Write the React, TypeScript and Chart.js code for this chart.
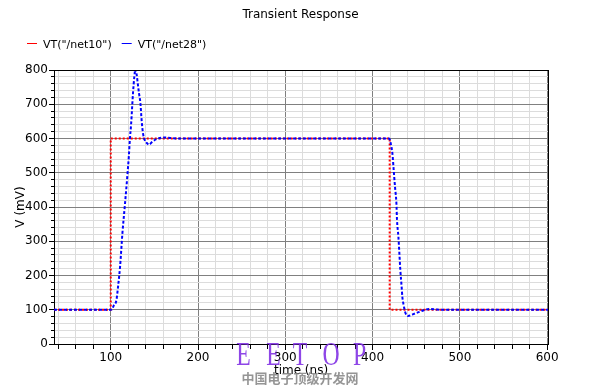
import React, { useEffect, useRef } from 'react';
import { Chart, registerables } from 'chart.js';

Chart.register(...registerables);

const chartTitle = 'Transient Response';
const xAxisTitle = 'time (ns)';
const yAxisTitle = 'V (mV)';
const seriesNames = ['VT("/net10")', 'VT("/net28")'];
const seriesColors = ['#ff0000', '#0000ff'];

// net10 : ideal step input (ns, mV)
const net10Time = [35, 100, 100, 419.6, 419.6, 601];
const net10Volt = [100, 100, 600, 600, 100, 100];

// net28 : ringing response (ns, mV)
const net28Time = [
  35, 100, 101.5, 103, 106.5, 108.5, 110.7, 113.4, 116.4, 119, 120.8, 122, 123.3, 125.5, 127, 128.3,
  129.8, 131, 132.4, 134, 135.5, 137, 139, 141.6, 143.9, 147.8, 152.3, 160.7, 170, 180,
  419, 420.7, 422.7, 424.2, 425.7, 427.3, 428, 429.6, 430.7, 431.8, 433.3, 434.1, 435.6, 437.5,
  440.5, 444, 447.4, 454, 460, 465.4, 472, 480, 601,
];
const net28Volt = [
  100, 100, 101, 110, 128, 170, 226, 324, 411, 490, 550, 600, 640, 732, 780, 803,
  785, 760, 732, 703, 650, 615, 595, 586, 582, 591, 598, 603, 601, 600,
  600, 587, 557, 508, 459, 411, 362, 313, 265, 216, 167, 138, 114, 92,
  82, 84, 88, 94, 100, 102, 101, 100, 100,
];

const xRange = [35, 601];
const yRange = [0, 800];
const xMajorTicks = [100, 200, 300, 400, 500, 600];
const yMajorTicks = [0, 100, 200, 300, 400, 500, 600, 700, 800];
const minorStep = 20;

const watermarkLetters = ['E', 'E', 'T', 'O', 'P'];
const watermarkLetterX = [243.5, 273.5, 300, 331, 359.5];
const watermarkCJK = '中国电子顶级开发网';

const FONT = '"DejaVu Sans", sans-serif';

function gridValues(min: number, max: number, step: number) {
  const out: number[] = [];
  for (let v = Math.ceil(min / step) * step; v <= max + 1e-9; v += step) out.push(v);
  return out;
}

const decorPlugin = {
  id: 'decor',
  afterDraw(chart: any) {
    const { ctx, chartArea: a, scales } = chart;
    const xs = scales.x;
    const ys = scales.y;
    ctx.save();
    // frame top/right
    ctx.strokeStyle = '#000';
    ctx.lineWidth = 1;
    ctx.beginPath();
    ctx.moveTo(Math.floor(a.left), Math.floor(a.top) + 0.5);
    ctx.lineTo(Math.floor(a.right) + 1, Math.floor(a.top) + 0.5);
    ctx.moveTo(Math.floor(a.right) + 0.5, Math.floor(a.top));
    ctx.lineTo(Math.floor(a.right) + 0.5, Math.floor(a.bottom) + 1);
    ctx.stroke();

    // tick marks
    ctx.beginPath();
    for (const v of gridValues(yRange[0], yRange[1], minorStep)) {
      const y = Math.floor(ys.getPixelForValue(v)) + 0.5;
      const len = yMajorTicks.includes(v) ? 5 : 3;
      ctx.moveTo(Math.floor(a.left) - len, y);
      ctx.lineTo(Math.floor(a.left), y);
    }
    for (const v of gridValues(xRange[0], xRange[1], minorStep)) {
      const x = Math.floor(xs.getPixelForValue(v)) + 0.5;
      const len = xMajorTicks.includes(v) ? 5 : 4;
      ctx.moveTo(x, Math.floor(a.bottom) + 1);
      ctx.lineTo(x, Math.floor(a.bottom) + 1 + len);
    }
    ctx.stroke();

    // title
    ctx.fillStyle = '#000';
    ctx.font = `12px ${FONT}`;
    ctx.textAlign = 'center';
    ctx.textBaseline = 'alphabetic';
    ctx.fillText(chartTitle, chart.width / 2, 18);

    // legend
    ctx.font = `11px ${FONT}`;
    ctx.textAlign = 'left';
    let lx = 27;
    const ly = 48;
    seriesNames.forEach((name, i) => {
      ctx.strokeStyle = seriesColors[i];
      ctx.lineWidth = 1;
      ctx.beginPath();
      ctx.moveTo(lx, 43.5);
      ctx.lineTo(lx + 10, 43.5);
      ctx.stroke();
      ctx.fillStyle = '#000';
      ctx.fillText(name, lx + 16, ly);
      lx += 16 + ctx.measureText(name).width + 10;
    });

    // watermark
    ctx.textAlign = 'center';
    ctx.fillStyle = 'rgba(130, 50, 228, 0.9)';
    ctx.font = '33px "Liberation Serif", serif';
    watermarkLetters.forEach((ch, i) => {
      ctx.save();
      ctx.translate(watermarkLetterX[i], 365);
      ctx.scale(0.72, 1);
      ctx.fillText(ch, 0, 0);
      ctx.restore();
    });
    ctx.fillStyle = 'rgba(130, 130, 130, 0.85)';
    ctx.font = 'bold 13px "Noto Sans CJK SC", sans-serif';
    ctx.textBaseline = 'middle';
    ctx.fillText(watermarkCJK, 300, 378.5);
    ctx.restore();
  },
};

export default function App() {
  const ref = useRef<HTMLCanvasElement | null>(null);

  useEffect(() => {
    document.body.style.margin = '0';
    const canvas = ref.current;
    if (!canvas) return;
    const gridColor = (c: any) => {
      const v = c.tick ? c.tick.value : NaN;
      return v % 100 === 0 ? '#808080' : '#dcdcdc';
    };
    const chart = new Chart(canvas, {
      type: 'line',
      data: {
        datasets: [
          {
            label: seriesNames[0],
            data: net10Time.map((t, i) => ({ x: t, y: net10Volt[i] })),
            borderColor: seriesColors[0],
            borderWidth: 2,
            borderDash: [2, 2],
            pointRadius: 0,
            fill: false,
            tension: 0,
            order: 2,
          },
          {
            label: seriesNames[1],
            data: net28Time.map((t, i) => ({ x: t, y: net28Volt[i] })),
            borderColor: seriesColors[1],
            borderWidth: 2,
            borderDash: [3, 2],
            pointRadius: 0,
            fill: false,
            cubicInterpolationMode: 'monotone',
            order: 1,
          },
        ],
      },
      options: {
        animation: false,
        responsive: false,
        devicePixelRatio: 1,
        events: [],
        layout: { padding: { top: 70, left: 0, right: 53, bottom: 0 } },
        plugins: {
          legend: { display: false },
          title: { display: false },
          tooltip: { enabled: false },
        },
        scales: {
          x: {
            type: 'linear',
            min: xRange[0],
            max: xRange[1],
            afterBuildTicks: (s: any) => {
              s.ticks = gridValues(xRange[0], xRange[1], minorStep).map((v) => ({ value: v }));
            },
            afterFit: (s: any) => {
              s.height = 47;
            },
            ticks: {
              autoSkip: false,
              maxRotation: 0,
              padding: 2,
              color: '#000',
              font: { family: FONT, size: 12 },
              callback: (v: any) => (xMajorTicks.includes(Number(v)) ? String(v) : ''),
            },
            grid: {
              color: gridColor,
              lineWidth: 1,
              drawTicks: true,
              tickLength: 5,
              tickColor: 'rgba(0,0,0,0)',
            },
            border: { display: true, color: '#000', width: 1 },
            title: {
              display: true,
              text: xAxisTitle,
              color: '#000',
              font: { family: FONT, size: 12 },
              padding: { top: 0, bottom: 13 },
            },
          },
          y: {
            type: 'linear',
            min: yRange[0],
            max: yRange[1],
            afterBuildTicks: (s: any) => {
              s.ticks = gridValues(yRange[0], yRange[1], minorStep).map((v) => ({ value: v }));
            },
            afterFit: (s: any) => {
              s.width = 54;
            },
            ticks: {
              autoSkip: false,
              padding: 1,
              color: '#000',
              font: { family: FONT, size: 12 },
              callback: (v: any) => (yMajorTicks.includes(Number(v)) ? String(v) : ''),
            },
            grid: {
              color: gridColor,
              lineWidth: 1,
              drawTicks: true,
              tickLength: 5,
              tickColor: 'rgba(0,0,0,0)',
            },
            border: { display: true, color: '#000', width: 1 },
            title: {
              display: true,
              text: yAxisTitle,
              color: '#000',
              font: { family: FONT, size: 12 },
              padding: { top: 14, bottom: 0 },
            },
          },
        },
      },
      plugins: [decorPlugin],
    } as any);
    return () => chart.destroy();
  }, []);

  return (
    <div style={{ width: 601, height: 391 }}>
      <canvas ref={ref} width={601} height={391} style={{ display: 'block', width: 601, height: 391 }} />
    </div>
  );
}
